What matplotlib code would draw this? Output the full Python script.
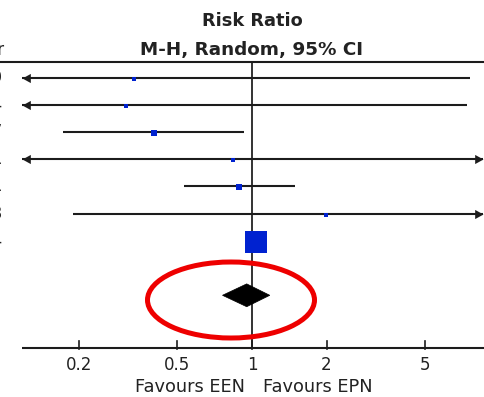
import matplotlib
matplotlib.use("Agg")
import matplotlib.pyplot as plt
from matplotlib.patches import Polygon, Ellipse
import numpy as np

# ---- data ----
study_years = ["2009", "2014", "2017", "2011", "2011", "2013", "2014"]
rr = [0.334, 0.309, 0.401, 0.836, 0.886, 1.985, 1.04]
ci_low = [0.05, 0.05, 0.172, 0.05, 0.530, 0.190, 0.97]
ci_high = [7.60, 7.39, 0.928, 20.0, 1.496, 20.0, 1.11]
weights = [2.4, 2.4, 4.8, 2.0, 8.0, 2.0, 90.0]
pooled = (0.952, 0.760, 1.18)
tick_vals = [0.2, 0.5, 1, 2, 5]
tick_labels = ["0.2", "0.5", "1", "2", "5"]
title1 = "Risk Ratio"
title2 = "M-H, Random, 95% CI"
left_label = "Favours EEN"
right_label = "Favours EPN"

# ---- layout ----
W, H = 485, 397
fig = plt.figure(figsize=(W / 100, H / 100), dpi=100)
ax = fig.add_axes([0, 0, 1, 1])
ax.set_xscale("log")
px_per_dec = 247.5
x1_px = 252
ax.set_xlim(10 ** (-x1_px / px_per_dec), 10 ** ((W - x1_px) / px_per_dec))
row0, row_h = 77.7, 27.2
ax.set_ylim((H - row0) / row_h, -row0 / row_h)
ax.axis("off")

lo_lim = 0.118
hi_lim = 8.6
line_c = "#1c1c1c"
text_c = "#222222"
blue = "#0022d0"

top_y = -0.58
axis_y = 9.94
diamond_y = 8.0

# top rule and axis
ax.plot([ax.get_xlim()[0], ax.get_xlim()[1]], [top_y, top_y], color=line_c, lw=1.5, solid_capstyle="butt")
ax.plot([lo_lim, ax.get_xlim()[1]], [axis_y, axis_y], color=line_c, lw=1.5, solid_capstyle="butt")
ax.plot([1, 1], [top_y, axis_y], color="#333333", lw=1.4, zorder=1)

for tv, tl in zip(tick_vals, tick_labels):
    ax.plot([tv, tv], [9.67, axis_y + 0.05], color=line_c, lw=1.2)
    ax.text(tv, 10.56, tl, ha="center", va="center", fontsize=12, color=text_c)

ax.annotate(left_label, xy=(1, 11.37), xytext=(-7, 0), textcoords="offset pixels",
            ha="right", va="center", fontsize=12.8, color=text_c)
ax.annotate(right_label, xy=(1, 11.37), xytext=(11, 0), textcoords="offset pixels",
            ha="left", va="center", fontsize=12.8, color=text_c)

ax.text(1, -2.1, title1, ha="center", va="center", fontsize=12.8, fontweight="bold", color=text_c)
ax.text(1, -1.02, title2, ha="center", va="center", fontsize=13.2, fontweight="bold", color=text_c)

# clipped left column (cut off at the left edge, as in the reference)
ax.annotate("Year", xy=(0, -1.02), xycoords=("axes fraction", "data"), xytext=(4, 0),
            textcoords="offset pixels", ha="right", va="center", fontsize=12, color=text_c)

left_arrow = [(0, 0), (1, 0.55), (1, -0.55)]
right_arrow = [(0, 0), (-1, 0.55), (-1, -0.55)]

for i, (yr, est, lo, hi, w) in enumerate(zip(study_years, rr, ci_low, ci_high, weights)):
    y = i
    ax.annotate(yr, xy=(0, y), xycoords=("axes fraction", "data"), xytext=(3, 0),
                textcoords="offset pixels", ha="right", va="center", fontsize=12, color=text_c)
    a = max(lo, lo_lim)
    b = min(hi, hi_lim)
    ax.plot([a, b], [y, y], color=line_c, lw=1.5, solid_capstyle="butt", zorder=2)
    if lo < lo_lim:
        ax.plot([lo_lim], [y], marker=left_arrow, ms=12, color=line_c, mew=0, zorder=3)
    if hi > hi_lim:
        ax.plot([hi_lim], [y], marker=right_arrow, ms=12, color=line_c, mew=0, zorder=3)
    side_pt = 2.32 * np.sqrt(w) * 0.72
    ax.scatter([est], [y + 0.03], marker="s", s=side_pt ** 2, color=blue, linewidths=0, zorder=4)

# pooled diamond
pe, pl, ph = pooled
dh = 0.42
ax.add_patch(Polygon([(pl, diamond_y), (pe, diamond_y - dh), (ph, diamond_y), (pe, diamond_y + dh)],
                     closed=True, facecolor="black", edgecolor="black", lw=0.5, zorder=5))

# red highlight ellipse
ell = Ellipse((231 / W, 1 - 300 / H), 167 / W, 76 / H, transform=ax.transAxes,
              fill=False, edgecolor="#ee0000", lw=3.6, zorder=6)
ax.add_patch(ell)

fig.savefig("out.png", dpi=100)
